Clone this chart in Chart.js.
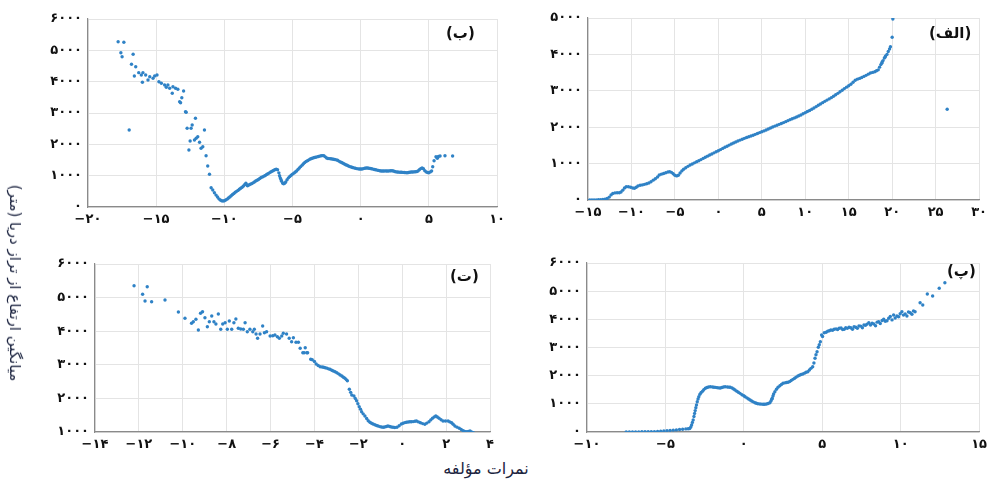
<!DOCTYPE html>
<html><head><meta charset="utf-8">
<script src="https://cdn.jsdelivr.net/npm/chart.js@4.4.1/dist/chart.umd.min.js"></script>
<style>
html,body{margin:0;padding:0;background:#fff;}
body{width:992px;height:480px;position:relative;overflow:hidden;font-family:'DejaVu Sans',sans-serif;}
canvas{position:absolute;}
.lbl{position:absolute;font:bold 15px 'DejaVu Sans',sans-serif;color:#111;direction:rtl;white-space:nowrap;}
#ytitle{position:absolute;left:15px;top:283px;transform:translate(-50%,-50%) rotate(90deg);font:15px 'DejaVu Sans',sans-serif;color:#1c2440;white-space:nowrap;direction:rtl;}
#xtitle{position:absolute;left:486px;top:468px;transform:translate(-50%,-50%);font:16px 'DejaVu Sans',sans-serif;color:#1c2440;white-space:nowrap;direction:rtl;}
</style></head><body>
<canvas id="cB" width="510" height="232" style="left:0;top:0"></canvas>
<canvas id="cA" width="487" height="232" style="left:505px;top:0"></canvas>
<canvas id="cT" width="505" height="215" style="left:0;top:240px"></canvas>
<canvas id="cP" width="487" height="215" style="left:505px;top:240px"></canvas>
<div class="lbl" style="left:446px;top:24px">(ب)</div>
<div class="lbl" style="left:929px;top:24px">(الف)</div>
<div class="lbl" style="left:450px;top:267px">(ت)</div>
<div class="lbl" style="left:947px;top:262px">(پ)</div>
<div id="ytitle">میانگین ارتفاع از تراز دریا (متر)</div>
<div id="xtitle">نمرات مؤلفه</div>
<script>
// ---- Panel (ب) : top-left ----
const bX = [-17.79,-17.37,-17.59,-17.5,-16.69,-16.81,-16.5,-16.28,-16.6,-16.09,-15.97,-15.77,-16.01,-15.6,-15.47,-15.23,-15.11,-14.94,-14.8,-14.62,-14.38,-14.26,-14.14,-14.01,-13.77,-13.82,-13.58,-13.41,-12.99,-13.12,-13.28,-13.21,-12.85,-12.8,-16.98,-12.12,-12.36,-12.73,-12.44,-11.46,-11.95,-12.51,-12.07,-11.82,-12.19,-12.6,-11.58,-11.71,-11.34,-11.22,-11.09,-10.97,
-10.85,-10.73,-10.61,-10.5,-10.4,-10.3,-10.2,-10.1,-10.0,-9.9,-9.8,-9.7,-9.6,-9.5,-9.4,-9.3,-9.2,-9.1,-9.0,-8.9,-8.8,-8.7,-8.6,-8.5,-8.42,-8.35,-8.3,-8.2,-8.1,-8.0,-7.9,-7.8,-7.7,-7.6,-7.5,-7.4,-7.3,-7.2,-7.1,-7.0,-6.9,-6.8,-6.7,-6.6,-6.5,-6.4,-6.3,-6.2,-6.1,-6.0,-5.95,-5.9,-5.85,-5.8,-5.72,-5.65,-5.58,-5.5,-5.4,-5.3,-5.2,-5.1,-5.0,-4.9,-4.8,-4.7,-4.6,-4.5,-4.4,-4.3,-4.2,-4.1,-4.0,-3.9,-3.8,-3.7,-3.6,-3.5,-3.4,-3.3,-3.2,-3.1,-3.0,-2.9,-2.8,-2.7,-2.6,-2.5,-2.4,-2.3,-2.2,-2.1,-2.0,-1.9,-1.8,-1.7,-1.6,-1.5,-1.4,-1.3,-1.2,-1.1,-1.0,-0.9,-0.8,-0.7,-0.6,-0.5,-0.4,-0.3,-0.2,-0.1,0.0,0.1,0.2,0.3,0.4,0.5,0.6,0.7,0.8,0.9,1.0,1.1,1.2,1.3,1.4,1.5,1.6,1.7,1.8,1.9,2.0,2.1,2.2,2.3,2.4,2.5,2.6,2.7,2.8,2.9,3.0,3.1,3.2,3.3,3.4,3.5,3.6,3.7,3.8,3.9,4.0,4.1,4.2,4.3,4.4,4.5,4.6,4.7,4.8,4.9,5.0,5.1,5.2,5.28,5.38,5.52,5.62,5.7,5.82,6.18,6.74];
const bY = [5276,5257,4925,4797,4874,4555,4478,4287,4181,4213,4287,4213,3980,4053,4159,4107,4181,4213,3999,3948,3894,3820,3894,3788,3840,3629,3788,3757,3702,3489,3361,3329,3042,3023,2458,2831,2617,2512,2512,2458,2244,2107,2193,2065,2139,1819,1925,1874,1637,1309,1044,616,
543,456,380,320,260,225,200,192,200,223,250,285,320,360,400,430,470,500,530,565,600,630,670,720,756,700,680,700,725,745,770,800,830,855,880,910,940,960,985,1005,1035,1060,1090,1115,1140,1165,1190,1205,1190,1090,1000,930,880,820,760,740,760,800,870,930,975,1015,1050,1080,1115,1150,1200,1245,1290,1335,1380,1420,1455,1480,1505,1530,1550,1565,1578,1588,1600,1612,1625,1635,1640,1637,1600,1565,1550,1545,1540,1532,1525,1518,1505,1490,1465,1440,1420,1395,1370,1350,1331,1310,1290,1275,1262,1250,1235,1225,1218,1215,1213,1215,1225,1238,1245,1243,1235,1228,1222,1210,1198,1188,1178,1168,1158,1150,1148,1150,1152,1150,1148,1152,1158,1158,1150,1135,1120,1115,1112,1110,1108,1105,1100,1097,1095,1100,1110,1115,1118,1120,1125,1128,1150,1190,1225,1245,1220,1160,1120,1100,1095,1120,1150,1286,1478,1606,1554,1610,1628,1637,1628];
const bXTicks = {min:-20, max:10, step:5};
const bYTicks = {min:0, max:6000, step:1000};

// ---- Panel (الف) : top-right ----
const aX = [-14.8,-14.55,-14.3,-14.05,-13.8,-13.55,-13.3,-13.05,-12.8,-12.55,-12.35,-12.15,-11.9,-11.65,-11.4,-11.2,-11.0,-10.8,-10.6,-10.35,-10.1,-9.85,-9.65,-9.45,-9.25,-9.0,-8.75,-8.5,-8.25,-8.0,-7.75,-7.5,-7.25,-7.0,-6.8,-6.55,-6.3,-6.05,-5.8,-5.6,-5.4,-5.2,-5.0,-4.8,-4.6,-4.4,-4.2,-4.0,-3.75,-3.5,-3.25,-3.0,-2.75,-2.5,-2.25,-2.0,-1.75,-1.5,-1.25,-1.0,-0.75,-0.5,-0.25,0,0.25,0.5,0.75,1.0,1.25,1.5,1.75,2.0,2.25,2.5,2.75,3.0,3.25,3.5,3.75,4.0,4.25,4.5,4.75,5.0,5.25,5.5,5.75,6.0,6.25,6.5,6.75,7.0,7.25,7.5,7.75,8.0,8.25,8.5,8.75,9.0,9.25,9.5,9.75,10.0,10.25,10.5,10.75,11.0,11.25,11.5,11.75,12.0,12.25,12.5,12.75,13.0,13.25,13.5,13.75,14.0,14.25,14.5,14.75,15.0,15.25,15.5,15.75,16.0,16.25,16.5,16.75,17.0,17.25,17.5,17.75,18.0,18.2,18.4,18.55,18.7,18.8,18.85,18.95,19.1,19.2,19.25,19.4,19.55,19.7,19.8,20.0,20.08,26.33];
const aY = [0,0,0,0,5,8,15,20,40,80,140,180,195,200,200,220,270,330,362,365,350,330,322,350,385,405,415,430,445,465,503,545,585,630,685,710,730,750,770,775,760,720,680,662,680,740,800,845,885,925,960,990,1020,1050,1080,1110,1143,1173,1205,1235,1264,1295,1325,1354,1385,1417,1448,1478,1508,1538,1565,1592,1620,1645,1670,1693,1715,1737,1757,1780,1804,1828,1852,1875,1899,1925,1952,1980,2005,2030,2054,2078,2103,2127,2153,2180,2208,2233,2256,2280,2306,2335,2368,2400,2430,2460,2493,2528,2565,2602,2638,2675,2710,2745,2778,2812,2850,2890,2930,2975,3015,3060,3100,3140,3180,3235,3290,3320,3340,3365,3395,3425,3458,3490,3505,3525,3550,3575,3650,3720,3760,3790,3830,3900,3930,3960,4000,4080,4150,4212,4470,4973,2492];
const aXTicks = {min:-15, max:30, step:5};
const aYTicks = {min:0, max:5000, step:1000};

// ---- Panel (ت) : bottom-left ----
const tX = [-12.22,-11.62,-11.83,-11.72,-11.42,-10.81,-10.2,-9.9,-9.6,-9.52,-9.4,-9.29,-9.19,-9.1,-8.99,-8.88,-8.79,-8.68,-8.58,-8.49,-8.38,-8.27,-8.18,-8.07,-7.97,-7.88,-7.77,-7.67,-7.58,-7.47,-7.36,-7.24,-7.16,-7.06,-6.94,-6.81,-6.74,-6.66,-6.59,-6.48,-6.36,-6.28,-6.18,-6.02,-5.9,-5.8,-5.69,-5.6,-5.49,-5.42,-5.27,-5.15,-5.04,-4.96,-4.84,-4.73,-4.65,-4.53,-4.42,-4.35,-4.47,-4.31,
-4.17,-4.1,-4.0,-3.92,-3.83,-3.74,-3.65,-3.58,-3.51,-3.43,-3.36,-3.29,-3.21,-3.14,-3.06,-2.98,-2.9,-2.83,-2.75,-2.68,-2.61,-2.55,-2.5,-2.41,-2.35,-2.3,-2.2,-2.14,-2.08,-2.02,-1.96,-1.9,-1.85,-1.78,-1.7,-1.62,-1.55,-1.47,-1.4,-1.33,-1.25,-1.17,-1.1,-1.02,-0.95,-0.87,-0.8,-0.72,-0.65,-0.57,-0.5,-0.42,-0.34,-0.24,-0.14,-0.04,0.04,0.12,0.19,0.27,0.35,0.42,0.5,0.58,0.65,0.74,0.83,0.93,1.03,1.12,1.22,1.3,1.38,1.46,1.53,1.6,1.68,1.77,1.86,1.97,2.09,2.17,2.25,2.32,2.4,2.5,2.6,2.69,2.78,2.85,2.93,3.01,3.09,3.16,3.24];
const tY = [5354,5324,5098,4899,4878,4929,4571,4384,4235,4283,4354,4036,4533,4581,4402,4134,4283,4452,4283,4214,4512,4056,4214,4253,4056,4304,4056,4253,4363,4086,4065,4056,4253,3985,4056,3985,4056,3917,3789,3917,4155,3955,3985,3857,3866,3887,3836,3789,3857,3937,3917,3789,3687,3806,3670,3670,3491,3360,3509,3360,3360,3360,
3163,3150,3100,3024,2980,2944,2935,2925,2914,2900,2880,2866,2840,2815,2795,2765,2730,2696,2665,2630,2598,2560,2527,2271,2180,2101,2071,2000,1932,1840,1753,1680,1604,1540,1476,1400,1336,1290,1260,1238,1215,1195,1179,1160,1150,1140,1150,1165,1179,1165,1150,1140,1135,1140,1185,1238,1260,1280,1289,1298,1305,1307,1310,1318,1327,1300,1277,1250,1229,1265,1307,1360,1408,1450,1476,1445,1408,1365,1327,1327,1327,1300,1277,1230,1179,1145,1110,1075,1039,1020,1009,1020,1030,1005,980];
const tXTicks = {min:-14, max:4, step:2};
const tYTicks = {min:1000, max:6000, step:1000};

// ---- Panel (پ) : bottom-right ----
const pX = [-7.5,-7.3,-7.1,-6.9,-6.7,-6.5,-6.3,-6.1,-5.9,-5.7,-5.5,-5.3,-5.1,-4.9,-4.7,-4.5,-4.3,-4.1,-3.9,-3.7,-3.55,-3.45,-3.38,-3.33,-3.28,-3.23,-3.18,-3.14,-3.1,-3.06,-3.02,-2.97,-2.92,-2.87,-2.8,-2.72,-2.63,-2.55,-2.45,-2.35,-2.25,-2.13,-2.0,-1.9,-1.8,-1.7,-1.6,-1.5,-1.4,-1.3,-1.19,-1.05,-0.95,-0.87,-0.75,-0.65,-0.56,-0.45,-0.35,-0.24,-0.12,0,0.08,0.2,0.3,0.4,0.5,0.6,0.71,0.8,0.9,1.03,1.15,1.25,1.34,1.45,1.55,1.66,1.73,1.78,1.81,1.86,1.9,1.98,2.08,2.18,2.3,2.4,2.5,2.62,2.72,2.82,2.92,3.02,3.13,3.24,3.34,3.45,3.55,3.65,3.76,3.87,3.97,4.08,4.18,4.28,4.39,4.47,4.54,4.6,4.67,4.75,4.81,4.88,4.96,5.02,5.13,5.25,5.35,5.45,5.55,5.66,5.76,5.88,5.98,6.08,6.2,6.3,6.4,6.5,6.6,6.71,6.82,6.93,7.03,7.14,7.24,7.34,7.45,7.56,7.66,7.76,7.86,7.97,8.08,8.18,8.29,8.4,8.5,8.6,8.7,8.82,8.92,9.02,9.13,9.24,9.34,9.45,9.55,9.65,9.76,9.87,9.97,10.08,10.18,10.29,10.4,10.5,10.61,10.72,10.82,10.92,11.24,11.41,11.7,12.04,12.46,12.82];
const pY = [0,0,2,3,5,7,8,10,12,15,20,27,38,50,58,65,75,90,100,110,115,125,180,250,340,430,550,660,760,860,960,1076,1170,1254,1340,1400,1450,1505,1551,1580,1600,1608,1600,1590,1585,1575,1565,1560,1580,1595,1608,1600,1592,1587,1560,1525,1491,1450,1410,1373,1325,1285,1254,1210,1170,1136,1100,1070,1040,1020,1005,994,988,985,983,995,1010,1040,1100,1160,1196,1280,1350,1431,1520,1587,1640,1690,1729,1745,1755,1764,1790,1830,1870,1910,1950,1988,2015,2040,2059,2090,2120,2141,2201,2260,2319,2450,2616,2740,2851,3007,3100,3206,3443,3390,3525,3540,3580,3596,3620,3610,3646,3660,3640,3681,3690,3640,3646,3700,3680,3717,3700,3650,3738,3720,3680,3763,3760,3700,3798,3790,3830,3880,3800,3860,3834,3770,3900,3916,3850,3960,4001,3930,3950,4036,4100,3980,4153,4050,4120,4093,4200,4271,4150,4189,4120,4260,4235,4180,4300,4271,4590,4508,4899,4828,5101,5300];
const pXTicks = {min:-10, max:15, step:5};
const pYTicks = {min:0, max:6000, step:1000};

const FA = '۰۱۲۳۴۵۶۷۸۹';
function fa(v){ const s = String(Math.abs(v)).replace(/\d/g, d => FA[d]); return v < 0 ? '\u2212' + s : s; }

const POINT = '#2f82c6';
function makeChart(id, xs, ys, xt, yt, box){
  const pts = xs.map((x,i)=>({x:x, y:ys[i]}));
  const tickFont = {family:"'DejaVu Sans'", size:13, weight:'bold'};
  return new Chart(document.getElementById(id), {
    type:'scatter',
    data:{datasets:[{data:pts, backgroundColor:POINT, borderWidth:0, pointRadius:1.7, pointHoverRadius:1.7}]},
    options:{
      responsive:false, animation:false, devicePixelRatio:1,
      layout:{padding:{left:0, top:box.top, right:box.right, bottom:0}},
      plugins:{legend:{display:false}, tooltip:{enabled:false}},
      scales:{
        x:{type:'linear', min:xt.min, max:xt.max,
           ticks:{stepSize:xt.step, callback:v=>fa(v), color:'#111', font:tickFont, padding:5, maxRotation:0, autoSkip:false},
           grid:{color:'#e4e4e4', lineWidth:1, drawTicks:false},
           border:{display:true, color:'#8a8a8a', width:1.2},
           afterFit:s=>{s.height=box.xh;}},
        y:{type:'linear', min:yt.min, max:yt.max,
           ticks:{stepSize:yt.step, callback:v=>fa(v), color:'#111', font:tickFont, padding:6, autoSkip:false},
           grid:{color:'#e4e4e4', lineWidth:1, drawTicks:false},
           border:{display:true, color:'#8a8a8a', width:1.2},
           afterFit:s=>{s.width=box.yw;}}
      }
    }
  });
}
makeChart('cB', bX, bY, bXTicks, bYTicks, {top:19, right:12, xh:25, yw:88});
makeChart('cA', aX, aY, aXTicks, aYTicks, {top:18, right:10, xh:32, yw:83});
makeChart('cT', tX, tY, tXTicks, tYTicks, {top:24, right:15, xh:23, yw:95});
makeChart('cP', pX, pY, pXTicks, pYTicks, {top:23, right:9, xh:23, yw:82});
</script>
</body></html>
